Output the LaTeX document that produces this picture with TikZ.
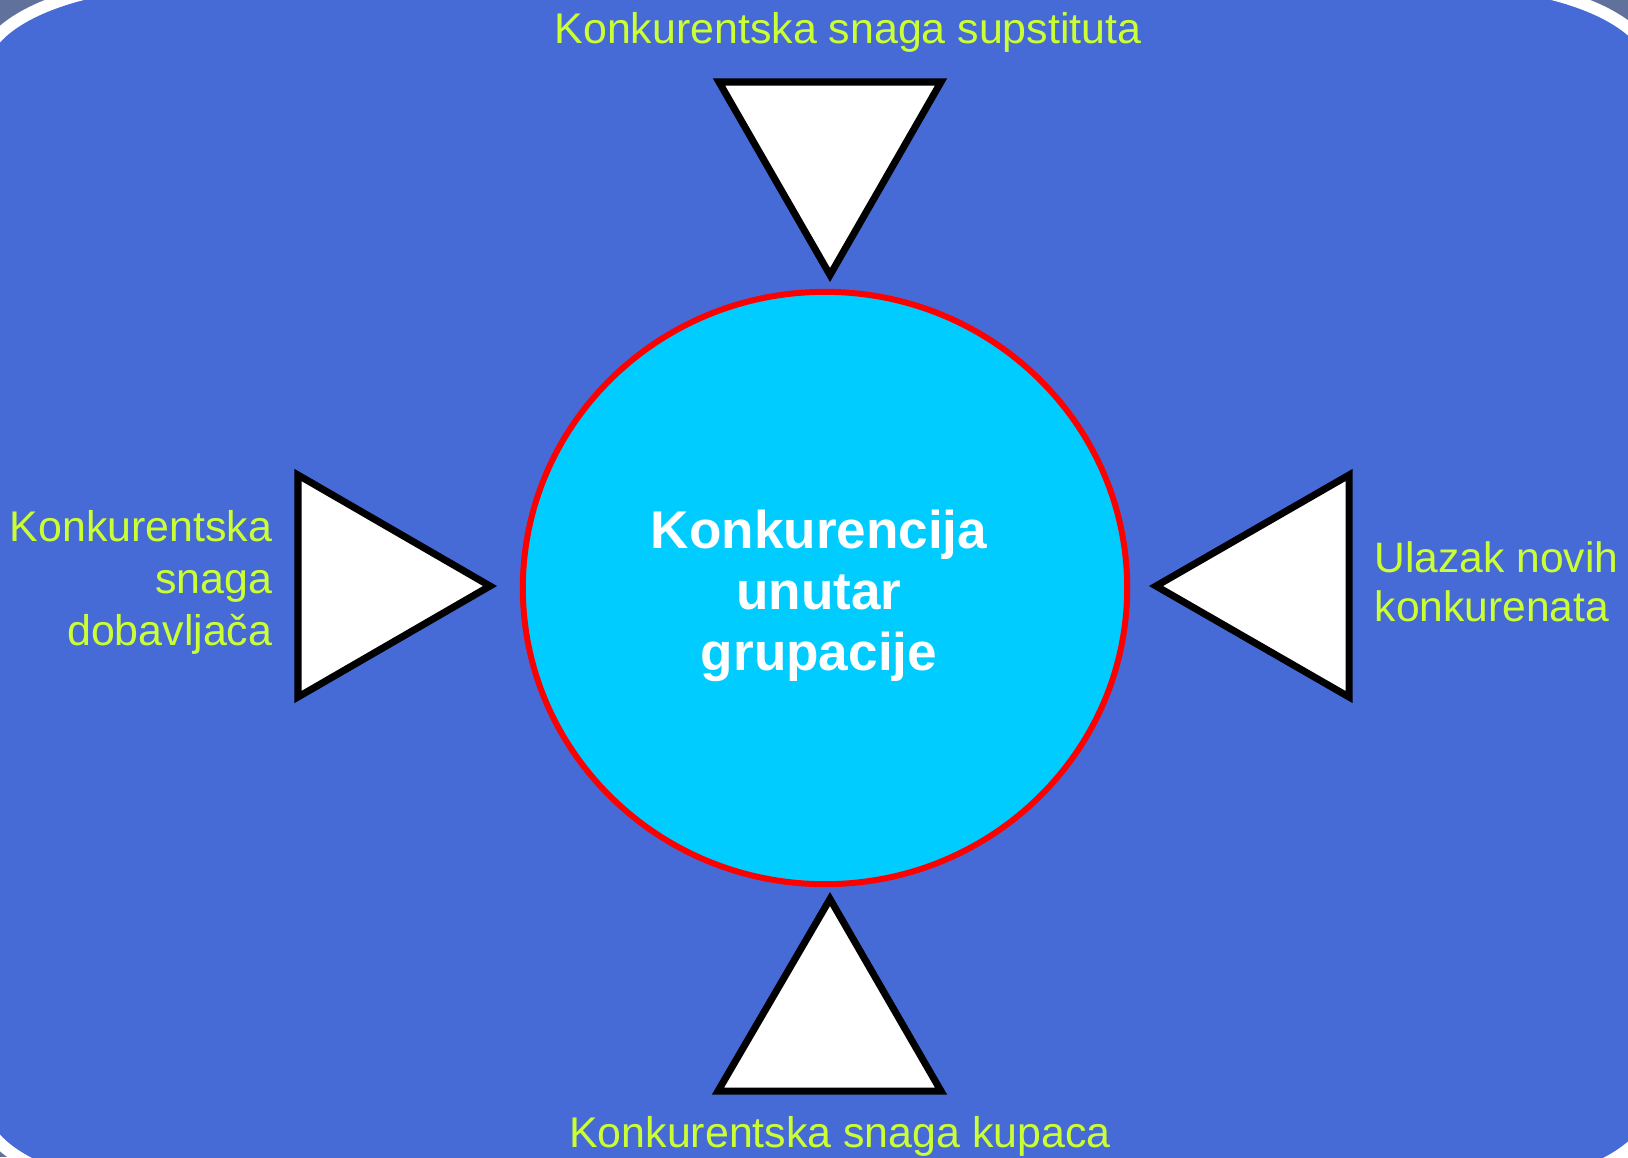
\documentclass[tikz,border=0pt]{standalone}
\usepackage{fontspec}
\setmainfont{Liberation Sans}
\usetikzlibrary{shapes.geometric}

\definecolor{slidegrey}{RGB}{96,114,156}
\definecolor{slideblue}{RGB}{71,107,214}
\definecolor{coreblue}{RGB}{0,204,255}
\definecolor{labelgreen}{RGB}{204,255,51}

\begin{document}
\begin{tikzpicture}[x=0.01cm, y=-0.01cm,
    force/.style={draw=black, fill=white, line width=2pt, line join=miter},
    labeltext/.style={text=labelgreen, inner sep=0pt, font=\fontsize{12.2}{14.8}\selectfont}]

    % Slide background, seen at the corners only
    \fill[slidegrey] (0,0) rectangle (1628,1157);
    \useasboundingbox (0,0) rectangle (1628,1157);
    \clip (0,0) rectangle (1628,1157);
    % Blue panel with a white rim and wide rounded corners
    \filldraw[fill=slideblue, draw=white, line width=3.4pt]
        (186,-18) -- (1449,-18)
        arc[start angle=-90, end angle=0, x radius=204, y radius=88] -- (1653,1107)
        arc[start angle=0, end angle=90, x radius=204, y radius=88] -- (186,1195)
        arc[start angle=90, end angle=180, x radius=204, y radius=88] -- (-18,70)
        arc[start angle=180, end angle=270, x radius=204, y radius=88] -- cycle;

    % The four forces, each a triangle pointing at the centre
    \draw[force] (719,82) -- (941,82) -- (830,275) -- cycle; % from above
    \draw[force] (718,1091) -- (941,1091) -- (830,899) -- cycle; % from below
    \draw[force] (298,475) -- (298,697) -- (490,586) -- cycle; % from the left
    \draw[force] (1349,475) -- (1349,697) -- (1156,586) -- cycle; % from the right

    % Rivalry in the middle
    \node (core) [ellipse, draw=red, fill=coreblue, line width=1.7pt, inner sep=0pt,
        minimum width=6.04cm, minimum height=5.92cm] at (825,588) {};
    \node (coretext) [text=white, align=center, inner sep=0pt,
        font=\bfseries\fontsize{15.1}{17.4}\selectfont] at (819,596)
        {Konkurencija\\unutar\\grupacije};

    % Labels of the forces
    \node (supstituti) [labeltext, anchor=base] at (848,43) {Konkurentska snaga supstituta};
    \node (kupci) [labeltext, anchor=base] at (840,1147) {Konkurentska snaga kupaca};
    \node (dobavljaci) [labeltext, align=right, anchor=north east] at (273,510)
        {Konkurentska\\snaga\\dobavljača};
    \node (ulazak) [labeltext, align=left, anchor=north west,
        font=\fontsize{12.1}{14}\selectfont] at (1374,541) {Ulazak novih\\konkurenata};

\end{tikzpicture}
\end{document}
